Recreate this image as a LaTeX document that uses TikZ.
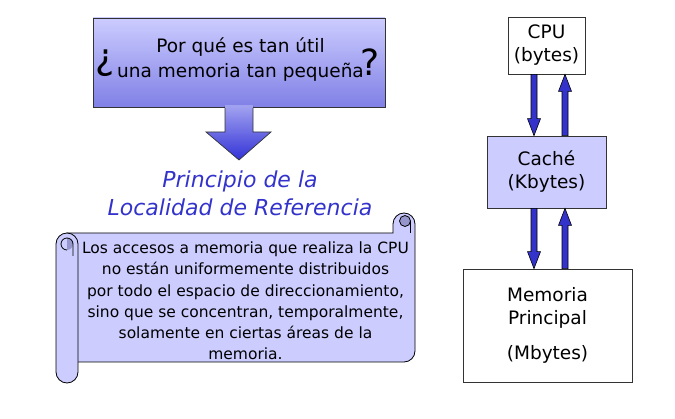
\documentclass[tikz,border=0pt]{standalone}
\usepackage{fontspec}
\setmainfont{DejaVu Sans}
\usetikzlibrary{calc}
\definecolor{lav}{RGB}{204,204,255}
\definecolor{lavdark}{RGB}{128,128,230}
\definecolor{arrtop}{RGB}{160,160,240}
\definecolor{arrbot}{RGB}{50,50,215}
\definecolor{titleblue}{RGB}{51,51,204}
\definecolor{curl}{RGB}{150,150,205}
\newcommand\fatarrow[3]{%
  \filldraw[fatarrowstyle] let \p1=(#1), \p2=(#2) in
    (\x1-3pt,\y1) -- (\x2-3pt,{\y2+(#3)}) -- (\x2-6.5pt,{\y2+(#3)}) -- (\x2,\y2)
    -- (\x2+6.5pt,{\y2+(#3)}) -- (\x2+3pt,{\y2+(#3)}) -- (\x1+3pt,\y1) -- cycle;}
\begin{document}
\begin{tikzpicture}[x=1pt,y=-1pt,
  qbox/.style={draw=black!80, line width=0.7pt, top color=lav, bottom color=lavdark,
    minimum width=292pt, minimum height=89pt, inner sep=0pt},
  qtext/.style={font=\fontsize{18.5}{25}\selectfont, align=center},
  qmark/.style={font=\fontsize{36}{36}\selectfont, inner sep=0pt},
  titletext/.style={font=\fontsize{22}{28}\selectfont\itshape, text=titleblue, align=center},
  scrolltext/.style={font=\fontsize{15.5}{21.2}\selectfont, align=center},
  membox/.style={draw=black!80, line width=0.7pt, align=center,
    font=\fontsize{18.5}{23}\selectfont, inner sep=0pt},
  fatarrowstyle/.style={draw=black, line width=0.6pt, fill=titleblue},
  scrollfill/.style={draw=black, line width=0.8pt, fill=lav}]
\useasboundingbox (0,0) rectangle (675,419);

% question box and arrow
\node[qbox] (q) at (239,62.5) {};
\node[qtext] (qt) at (240.5,60) {Por qué es tan útil\\una memoria tan pequeña};
\node[qmark] (qo) at (105,63) {¿};
\node[qmark] (qc) at (370,62) {?};
\shade[top color=arrtop, bottom color=arrbot, draw=black!80, line width=0.7pt]
  (225,106.5) -- (225,132) -- (206,132) -- (239,160) -- (271,132) -- (253,132) -- (253,106.5);
\fill[arrtop] (225.4,105.5) rectangle (252.6,108);

% title
\node[titletext] (title) at (240,193) {Principio de la\\Localidad de Referencia};

% scroll
\path[scrollfill] (67,233) -- (393,233) -- (393,224)
  arc[start angle=180,end angle=360,radius=11] -- (415,351)
  arc[start angle=0,end angle=90,radius=11] -- (67,362) -- cycle;
\path[scrollfill] (56,244) arc[start angle=180,end angle=360,radius=11] -- (78,372)
  arc[start angle=0,end angle=180,radius=11] -- cycle;
% left curl
\fill[curl] (67,238) arc[start angle=270,end angle=450,radius=6] -- cycle;
\draw[line width=0.8pt] (67,250) arc[start angle=90,end angle=270,radius=6]
  arc[start angle=270,end angle=360,radius=6] -- (73,256);
% right curl
\filldraw[fill=curl, line width=0.8pt] (405,221) circle[radius=5.5];
\draw[line width=0.8pt] (410.5,221) -- (410.5,233);
\node[scrolltext] (st) at (245.5,301) {Los accesos a memoria que realiza la CPU\\no están uniformemente distribuidos\\por todo el espacio de direccionamiento,\\sino que se concentran, temporalmente,\\solamente en ciertas áreas de la\\memoria.};

% memory hierarchy
\node[membox, fill=white, minimum width=77pt, minimum height=57pt] (cpu) at (546.5,45.5) {CPU\\(bytes)};
\node[membox, fill=lav, minimum width=119pt, minimum height=72pt] (cache) at (546.5,172) {Caché\\(Kbytes)};
\node[membox, fill=white, minimum width=169pt, minimum height=113pt] (mem) at (547.5,325.5) {Memoria\\Principal\\[12pt](Mbytes)};

\fatarrow{$(cpu.south)+(-12.5,0)$}{$(cache.north)+(-12.5,0)$}{17pt}
\fatarrow{$(cache.north)+(18.5,0)$}{$(cpu.south)+(18.5,0)$}{-17pt}
\fatarrow{$(cache.south)+(-12.5,0)$}{$(mem.north)+(-13.5,0)$}{17pt}
\fatarrow{$(mem.north)+(17.5,0)$}{$(cache.south)+(18.5,0)$}{-17pt}
\end{tikzpicture}
\end{document}
